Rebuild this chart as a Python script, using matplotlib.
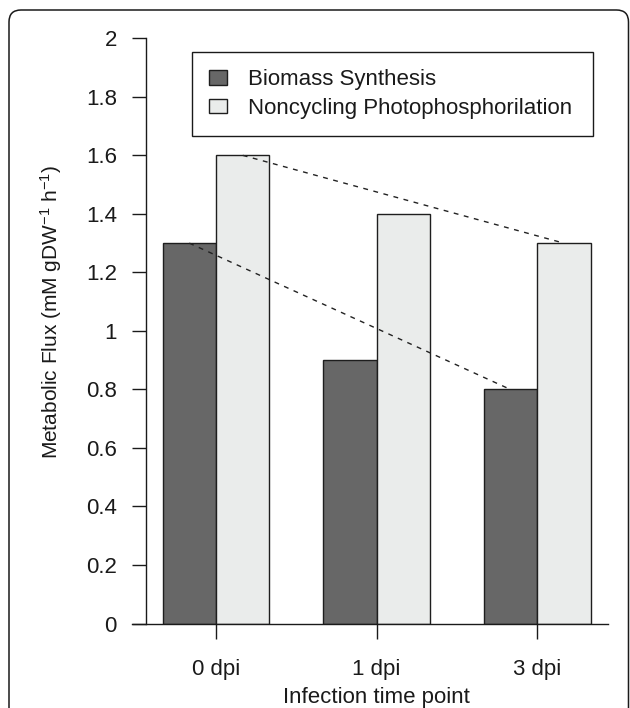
import matplotlib
matplotlib.use("Agg")
import matplotlib.pyplot as plt
from matplotlib.patches import FancyBboxPatch
from matplotlib.transforms import IdentityTransform
import numpy as np

# ---- data ----
categories = ['0 dpi', '1 dpi', '3 dpi']
biomass = [1.3, 0.9, 0.8]
photophos = [1.6, 1.4, 1.3]
series_labels = ['Biomass Synthesis', 'Noncycling Photophosphorilation']
y_ticks = [0, 0.2, 0.4, 0.6, 0.8, 1.0, 1.2, 1.4, 1.6, 1.8, 2.0]
x_label = 'Infection time point'
y_label = r'Metabolic Flux (mM gDW$^{-1}$ h$^{-1}$)'

plt.rcParams['font.family'] = ['Liberation Sans', 'DejaVu Sans']
plt.rcParams['mathtext.fontset'] = 'custom'
plt.rcParams['mathtext.rm'] = 'Liberation Sans'
plt.rcParams['mathtext.it'] = 'Liberation Sans:italic'
plt.rcParams['mathtext.default'] = 'regular'

W, H = 630, 708
fig = plt.figure(figsize=(W / 100, H / 100), dpi=100)

# outer rounded frame (pixel coordinates)
frame = FancyBboxPatch((9, -30), 619.5, H - 10 + 30,
                       boxstyle="round,pad=0,rounding_size=12",
                       transform=IdentityTransform(), fill=False,
                       edgecolor='#1a1a1a', linewidth=1.1)
fig.patches.append(frame)

ax_l, ax_r, ax_b, ax_t = 145.7, 608.0, 623.5, 38.3
ax = fig.add_axes([ax_l / W, 1 - ax_b / H, (ax_r - ax_l) / W, (ax_b - ax_t) / H])
ax.patch.set_visible(False)

x = np.arange(len(categories))
w = 0.333
dark = '#676767'
light = '#EAECEB'
edge = '#1e1e1e'
b1 = ax.bar(x - w / 2, biomass, w, color=dark, edgecolor=edge, linewidth=1.0,
            label=series_labels[0], zorder=2)
b2 = ax.bar(x + w / 2, photophos, w, color=light, edgecolor=edge, linewidth=1.0,
            label=series_labels[1], zorder=2)

# dashed trend lines between first and last group
ax.plot([x[0] - w / 2, x[-1] - w / 2], [biomass[0], biomass[-1]],
        ls=(0, (3.5, 4)), color='#222222', lw=1.0, zorder=3)
ax.plot([x[0] + w / 2, x[-1] + w / 2], [photophos[0], photophos[-1]],
        ls=(0, (3.5, 4)), color='#222222', lw=1.0, zorder=3)

ax.set_xlim(-0.438, 2.442)
ax.set_ylim(0, 2)

for s in ['top', 'right']:
    ax.spines[s].set_visible(False)
ax.spines['left'].set_bounds(0, 2)
ax.spines['bottom'].set_bounds(-0.526, 2.442)
for s in ['left', 'bottom']:
    ax.spines[s].set_linewidth(1.0)
    ax.spines[s].set_color('#1a1a1a')
    ax.spines[s].set_zorder(4)

ax.set_yticks(y_ticks)
ax.set_yticklabels(['%g' % v for v in y_ticks])
ax.set_xticks(x)
ax.set_xticklabels(categories)
ax.tick_params(axis='y', direction='out', length=10.1, width=1.0, pad=10.6,
               labelsize=16, color='#1a1a1a', labelcolor='#1a1a1a')
ax.tick_params(axis='x', direction='out', length=10.8, width=1.0, pad=15.0,
               labelsize=16, color='#1a1a1a', labelcolor='#1a1a1a')

ax.set_xlabel(x_label, fontsize=16, labelpad=4.5, color='#1a1a1a')
ax.set_ylabel(y_label, fontsize=15, color='#1a1a1a')
ax.yaxis.set_label_coords((64 - ax_l) / (ax_r - ax_l), (ax_b - 312) / (ax_b - ax_t))

leg = ax.legend(handles=[b1, b2], loc='upper left',
                bbox_to_anchor=(192 / W, 1 - 134 / H, 401 / W, 82 / H),
                bbox_transform=fig.transFigure, mode='expand', borderaxespad=0,
                fontsize=16, frameon=True, fancybox=False, framealpha=1,
                edgecolor='#1a1a1a', handlelength=0.78, handleheight=0.64,
                handletextpad=0.95, labelspacing=0.34, borderpad=0.78)
leg.get_frame().set_linewidth(1.0)
for t in leg.get_texts():
    t.set_color('#1a1a1a')

fig.savefig('out.png', dpi=100)
